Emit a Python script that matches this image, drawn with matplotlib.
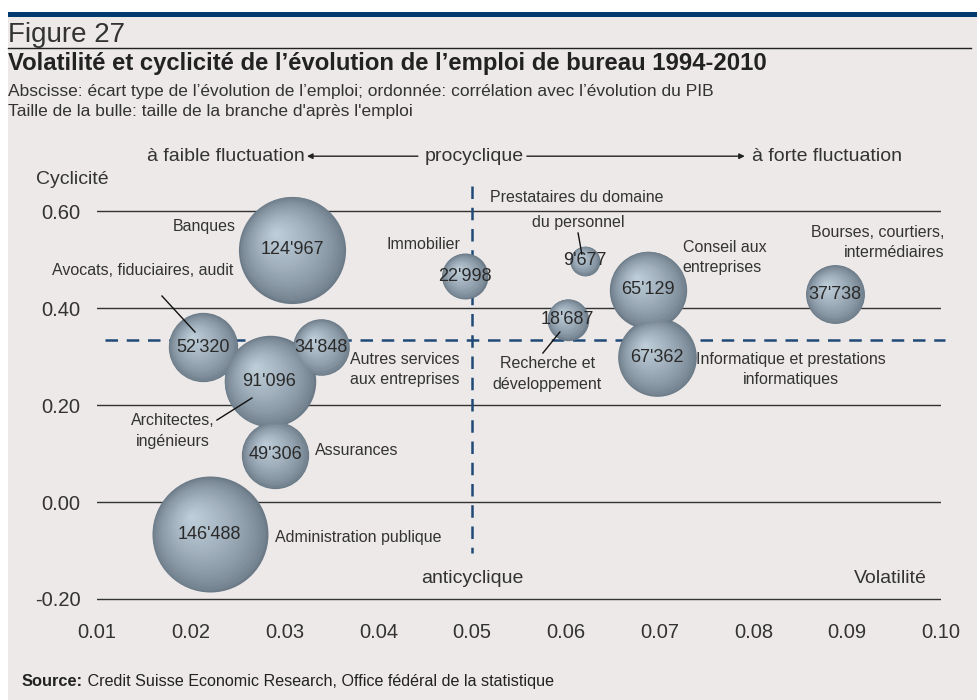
import numpy as np
import matplotlib
matplotlib.use("Agg")
import matplotlib.pyplot as plt
import matplotlib.transforms as mtransforms
from matplotlib.patches import Rectangle
from matplotlib.lines import Line2D

plt.rcParams['font.family'] = ['Liberation Sans', 'DejaVu Sans']

# data
volatility = [0.0308, 0.0213, 0.0339, 0.0284, 0.0492, 0.0290, 0.0220,
              0.0620, 0.0602, 0.0688, 0.0697, 0.0887]
cyclicity = [0.520, 0.319, 0.319, 0.249, 0.465, 0.097, -0.067,
             0.497, 0.376, 0.438, 0.298, 0.428]
employment = [124967, 52320, 34848, 91096, 22998, 49306, 146488,
              9677, 18687, 65129, 67362, 37738]
value_labels = ["124'967", "52'320", "34'848", "91'096", "22'998", "49'306", "146'488",
                "9'677", "18'687", "65'129", "67'362", "37'738"]
yticks = [-0.2, 0.0, 0.2, 0.4, 0.6]
xticks = [0.01, 0.02, 0.03, 0.04, 0.05, 0.06, 0.07, 0.08, 0.09, 0.10]
mean_vol = 0.05
mean_cyc = 0.333

bg = '#ece9e8'
txt = '#333333'
dash_col = '#1f4a78'

fig = plt.figure(figsize=(9.77, 7.0), dpi=100)
fig.patch.set_facecolor('white')
fig.patches.append(Rectangle((8 / 977, 0), 1, 1 - 17 / 700, transform=fig.transFigure,
                             facecolor=bg, edgecolor='none', zorder=-10))
fig.patches.append(Rectangle((8 / 977, 1 - 17 / 700), 1, 5 / 700, transform=fig.transFigure,
                             facecolor='#003a70', edgecolor='none', zorder=-10))
fig.lines.append(Line2D([8 / 977, 971 / 977], [1 - 48 / 700, 1 - 48 / 700],
                        transform=fig.transFigure, color='#222222', lw=1.0))

fig.text(8 / 977, 1 - 42 / 700, 'Figure 27', fontsize=20, color=txt, va='baseline')
fig.text(8 / 977, 1 - 70 / 700,
         "Volatilité et cyclicité de l’évolution de l’emploi de bureau 1994-2010",
         fontsize=17.2, fontweight='bold', color='#222222', va='baseline')
fig.text(8 / 977, 1 - 96 / 700,
         "Abscisse: écart type de l’évolution de l’emploi; ordonnée: corrélation avec l’évolution du PIB",
         fontsize=12.5, color=txt, va='baseline')
fig.text(8 / 977, 1 - 116 / 700,
         "Taille de la bulle: taille de la branche d'après l'emploi",
         fontsize=12.5, color=txt, va='baseline')
fig.text(36 / 977, 1 - 180 / 700, 'Cyclicité', fontsize=14, color=txt, va='center')

ax = fig.add_axes([97 / 977, 1 - 608.7 / 700, 844 / 977, (608.7 - 152.8) / 700])
ax.set_facecolor('none')
ax.set_xlim(0.01, 0.10)
ax.set_ylim(-0.22, 0.72)
for s in ax.spines.values():
    s.set_visible(False)
ax.tick_params(length=0, labelsize=14.5, labelcolor=txt)
ax.set_yticks(yticks)
ax.set_yticklabels(['%.2f' % v for v in yticks])
ax.tick_params(axis='y', pad=12)
ax.set_xticks(xticks)
ax.set_xticklabels(['%.2f' % v for v in xticks])
ax.tick_params(axis='x', pad=10)
for y in yticks:
    ax.axhline(y, color='#333333', lw=1.0, zorder=1)

src = fig.text(22 / 977, 1 - 686 / 700, 'Source:', fontsize=11.8, fontweight='bold',
               color='#222222', va='baseline')
ax.annotate(' Credit Suisse Economic Research, Office fédéral de la statistique',
            xy=(1, 0), xycoords=src, va='bottom', fontsize=11.6, color='#222222',
            annotation_clip=False)

# mean lines
ax.plot([0.0109, 0.1004], [mean_cyc, mean_cyc], color=dash_col, lw=1.8,
        dashes=(5, 3.5), zorder=2, clip_on=False)
ax.plot([mean_vol, mean_vol], [0.652, -0.105], color=dash_col, lw=1.8,
        dashes=(5, 3.5), zorder=2, clip_on=False)

# shaded bubbles
edge = np.array([0x6c, 0x7a, 0x88]) / 255.0
light = np.array([0xc0, 0xd0, 0xdb]) / 255.0
scale = 58.0 / np.sqrt(146488)  # radius in px for the largest bubble
n_layers = 40
for x, y, v, lab in zip(volatility, cyclicity, employment, value_labels):
    r_pt = scale * np.sqrt(v) * 0.72
    for k in range(n_layers):
        frac = 1 - k / n_layers
        t = 1 - frac
        col = edge + (light - edge) * (t ** 0.7)
        dx = -0.32 * r_pt * t
        dy = 0.32 * r_pt * t
        tr = mtransforms.offset_copy(ax.transData, fig=fig, x=dx, y=dy, units='points')
        ax.scatter([x], [y], s=(2 * r_pt * frac) ** 2, color=col, transform=tr,
                   linewidths=0, zorder=3 + 0.001 * k, clip_on=False)
    ax.text(x, y, lab, fontsize=13, color='#2a2a2a', ha='center', va='center', zorder=5)

lab_kw = dict(fontsize=11.5, color=txt, zorder=6)
ax.text(0.02482, 0.569, 'Banques', ha='right', va='center', **lab_kw)
ax.text(0.0245, 0.478, 'Avocats, fiduciaires, audit', ha='right', va='center', **lab_kw)
ax.text(0.0487, 0.530, 'Immobilier', ha='right', va='center', **lab_kw)
ax.text(0.0519, 0.627, 'Prestataires du domaine', ha='left', va='center', **lab_kw)
ax.text(0.0613, 0.577, 'du personnel', ha='center', va='center', **lab_kw)
ax.text(0.07247, 0.504, 'Conseil aux\nentreprises', ha='left', va='center', linespacing=1.45, **lab_kw)
ax.text(0.1004, 0.535, 'Bourses, courtiers,\nintermédiaires', ha='right', va='center',
        multialignment='right', linespacing=1.4, **lab_kw)
ax.text(0.04284, 0.2732, 'Autres services\naux entreprises', ha='center', va='center', linespacing=1.45, **lab_kw)
ax.text(0.0580, 0.264, 'Recherche et\ndéveloppement', ha='center', va='center', linespacing=1.45, **lab_kw)
ax.text(0.0840, 0.2732, 'Informatique et prestations\ninformatiques', ha='center', va='center',
        linespacing=1.45, **lab_kw)
ax.text(0.0181, 0.1464, 'Architectes,\ningénieurs', ha='center', va='center', linespacing=1.45, **lab_kw)
ax.text(0.03324, 0.1052, 'Assurances', ha='left', va='center', **lab_kw)
ax.text(0.02898, -0.0742, 'Administration publique', ha='left', va='center', **lab_kw)

# leader lines
ln = dict(color='#111111', lw=1.0, zorder=6)
ax.plot([0.01693, 0.02045], [0.4247, 0.3505], **ln)
ax.plot([0.0613, 0.0617], [0.5546, 0.5113], **ln)
ax.plot([0.05936, 0.05755], [0.3505, 0.3072], **ln)
ax.plot([0.02279, 0.02652], [0.169, 0.2144], **ln)

# axis direction texts
ax.text(0.05, -0.157, 'anticyclique', fontsize=14, color=txt, ha='center', va='center')
ax.text(0.0985, -0.157, 'Volatilité', fontsize=14, color=txt, ha='right', va='center')
ytop = 0.713
ax.text(0.03217, ytop, 'à faible fluctuation', fontsize=14, color=txt, ha='right', va='center')
ax.text(0.0502, ytop, 'procyclique', fontsize=14, color=txt, ha='center', va='center')
ax.text(0.07983, ytop, 'à forte fluctuation', fontsize=14, color=txt, ha='left', va='center')
arrow_kw = dict(arrowstyle='-|>', color='#222222', lw=1.0, mutation_scale=8, shrinkA=0, shrinkB=0)
ax.annotate('', xy=(0.03239, ytop), xytext=(0.04422, ytop), arrowprops=arrow_kw, annotation_clip=False)
ax.annotate('', xy=(0.07908, ytop), xytext=(0.05584, ytop), arrowprops=arrow_kw, annotation_clip=False)

fig.savefig('out.png', dpi=100, facecolor=fig.get_facecolor())
